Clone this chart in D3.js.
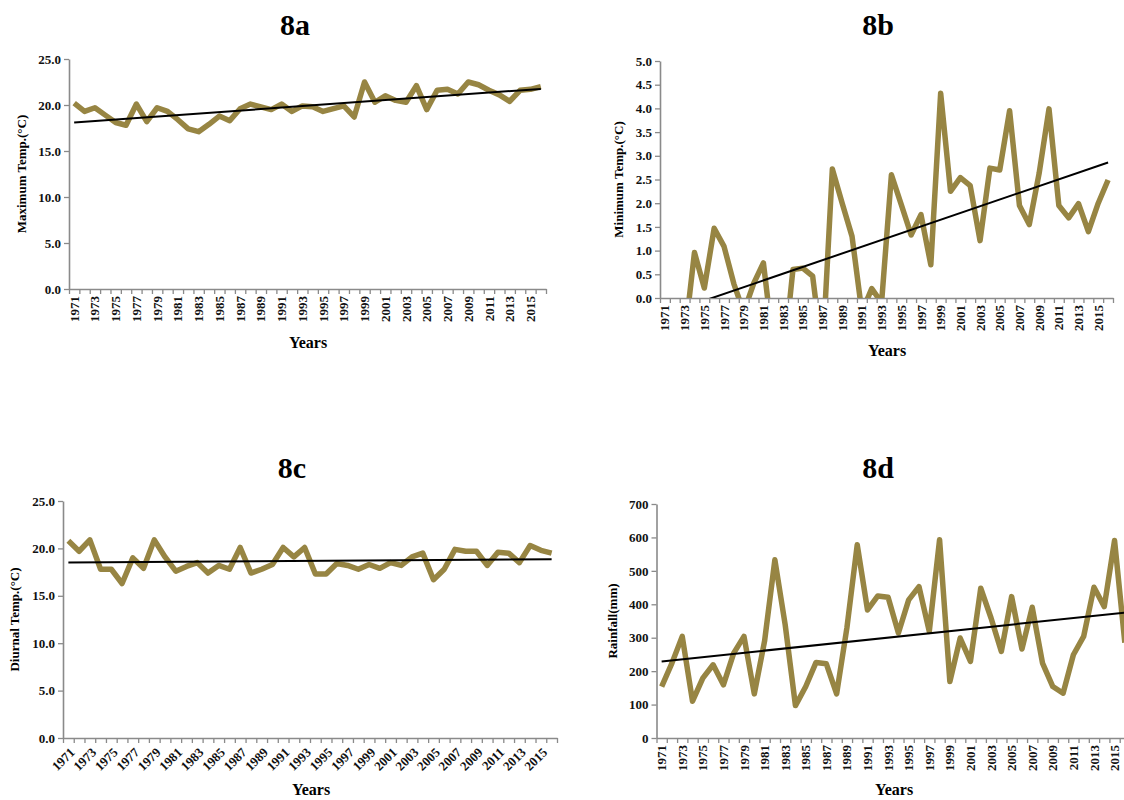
<!DOCTYPE html>
<html>
<head>
<meta charset="utf-8">
<script src="https://cdn.jsdelivr.net/npm/d3@7"></script>
<style>
  body { margin: 0; background: #fff; }
  svg { display: block; font-family: 'Liberation Serif', 'Times New Roman', serif; }
</style>
</head>
<body>
<svg></svg>
<script>
var WIDTH = 1124;
var HEIGHT = 800;

var years = [1971, 1972, 1973, 1974, 1975, 1976, 1977, 1978, 1979, 1980,
    1981, 1982, 1983, 1984, 1985, 1986, 1987, 1988, 1989, 1990,
    1991, 1992, 1993, 1994, 1995, 1996, 1997, 1998, 1999, 2000,
    2001, 2002, 2003, 2004, 2005, 2006, 2007, 2008, 2009, 2010,
    2011, 2012, 2013, 2014, 2015, 2016];
var yearLabels = [1971, 1973, 1975, 1977, 1979, 1981, 1983, 1985, 1987, 1989,
    1991, 1993, 1995, 1997, 1999, 2001, 2003, 2005, 2007, 2009, 2011, 2013, 2015];

// 8a maximum temperature
var maxTemp = [20.2, 19.3, 19.7, 18.9, 18.1, 17.8, 20.1, 18.2, 19.7, 19.3,
    18.4, 17.4, 17.1, 17.9, 18.8, 18.3, 19.6, 20.1, 19.8, 19.5,
    20.1, 19.3, 19.9, 19.8, 19.3, 19.6, 19.9, 18.7, 22.5, 20.3,
    21.0, 20.5, 20.3, 22.1, 19.5, 21.6, 21.7, 21.2, 22.5, 22.2,
    21.6, 21.1, 20.4, 21.6, 21.7, 22.0];
var maxTrend = [18.1, 21.75];
var maxTicks = [0, 5, 10, 15, 20, 25];

// 8b minimum temperature (values under 0 fall outside the axis)
var minTemp = [-0.6, -0.9, -0.85, 0.96, 0.21, 1.47, 1.09, 0.30, -0.30, 0.30,
    0.74, -1.0, -1.4, 0.60, 0.63, 0.46, -1.2, 2.72, 2.00, 1.30,
    -0.3, 0.20, -0.1, 2.60, 1.97, 1.33, 1.76, 0.70, 4.32, 2.25,
    2.54, 2.37, 1.21, 2.74, 2.70, 3.95, 1.95, 1.55, 2.63, 3.99,
    1.95, 1.69, 1.99, 1.40, 2.00, 2.49];
var minTrend = [-0.34, 2.86];
var minTicks = [0, 0.5, 1, 1.5, 2, 2.5, 3, 3.5, 4, 4.5, 5];

// 8c diurnal temperature
var diurnal = [20.8, 19.7, 20.9, 17.8, 17.8, 16.3, 19.0, 17.9, 20.9, 19.1,
    17.6, 18.1, 18.5, 17.4, 18.2, 17.8, 20.1, 17.4, 17.8, 18.3,
    20.1, 19.1, 20.1, 17.3, 17.3, 18.4, 18.2, 17.8, 18.3, 17.9,
    18.5, 18.2, 19.1, 19.5, 16.7, 17.8, 19.9, 19.7, 19.7, 18.2,
    19.6, 19.5, 18.5, 20.3, 19.8, 19.5];
var diurnalTrend = [18.5, 18.85];
var diurnalTicks = [0, 5, 10, 15, 20, 25];

// 8d rainfall
var rainfall = [154, 224, 304, 110, 179, 219, 159, 254, 304, 132,
    290, 533, 339, 97, 154, 226, 222, 132, 330, 578,
    383, 425, 421, 314, 413, 453, 319, 593, 169, 299,
    229, 448, 359, 259, 423, 266, 391, 224, 154, 134,
    249, 304, 451, 393, 591, 285];
var rainTrend = [229, 375];
var rainTicks = [0, 100, 200, 300, 400, 500, 600, 700];

var svg = d3.select('svg')
    .attr('width', WIDTH)
    .attr('height', HEIGHT);

var LINE_COLOR = '#978543';
var AXIS_COLOR = '#8a8a8a';

function drawPanel(p) {
    var g = svg.append('g');
    var x = d3.scaleBand().domain(years).range([p.left, p.right]);
    var y = d3.scaleLinear().domain(p.domain).range([p.bottom, p.top]);
    var cx = function(yr) { return x(yr) + x.bandwidth() / 2; };

    // title
    g.append('text')
        .attr('x', p.titleX).attr('y', p.titleY)
        .attr('text-anchor', 'middle')
        .style('font-size', '30px').style('font-weight', 'bold')
        .text(p.title);

    // y axis
    var yAxis = g.append('g')
        .attr('transform', 'translate(' + p.left + ',0)')
        .call(d3.axisLeft(y).tickValues(p.ticks).tickFormat(d3.format(p.fmt)).tickSize(5).tickSizeOuter(0));
    yAxis.selectAll('text').attr('x', -8);

    // x axis: tick at every category edge
    var edge = d3.scaleLinear().domain([0, years.length]).range([p.left, p.right]);
    g.append('g')
        .attr('transform', 'translate(0,' + p.bottom + ')')
        .call(d3.axisBottom(edge).tickValues(d3.range(0, years.length + 1)).tickFormat('').tickSize(5).tickSizeOuter(0));

    var xLab = g.append('g')
        .attr('transform', 'translate(0,' + p.bottom + ')')
        .call(d3.axisBottom(x).tickValues(yearLabels).tickSize(0));
    xLab.select('.domain').remove();
    if (p.slant) {
        xLab.selectAll('text')
            .attr('x', 0).attr('y', 0).attr('dy', '0.35em')
            .attr('text-anchor', 'end')
            .attr('transform', 'translate(4,12) rotate(-45)');
    } else {
        xLab.selectAll('text')
            .attr('x', -7).attr('y', 0).attr('dy', '0.35em')
            .attr('text-anchor', 'end')
            .attr('transform', 'rotate(-90)');
    }

    g.selectAll('.domain').attr('stroke', AXIS_COLOR).attr('stroke-width', 1.6);
    g.selectAll('.tick line').attr('stroke', AXIS_COLOR).attr('stroke-width', 1.3);
    g.selectAll('.tick text')
        .attr('fill', '#111')
        .style('font-size', '13px').style('font-weight', 'bold')
        .style('font-family', "'Liberation Serif', serif");

    // axis titles
    g.append('text')
        .attr('transform', 'translate(' + p.yTitleX + ',' + (p.top + p.bottom) / 2 + ') rotate(-90)')
        .attr('text-anchor', 'middle').attr('dy', '0.35em')
        .style('font-size', '13px').style('font-weight', 'bold')
        .text(p.yTitle);
    g.append('text')
        .attr('x', p.xTitleX).attr('y', p.xTitleY)
        .attr('text-anchor', 'middle')
        .style('font-size', '16px').style('font-weight', 'bold')
        .text('Years');

    // clip to the plot area
    var clipId = 'clip-' + p.title;
    svg.append('clipPath').attr('id', clipId)
        .append('rect')
        .attr('x', p.left).attr('y', p.top - 10)
        .attr('width', p.right - p.left).attr('height', p.bottom - p.top + 10);

    var line = d3.line()
        .x(function(d, i) { return cx(years[i]); })
        .y(function(d) { return y(d); });

    g.append('path')
        .datum(p.values)
        .attr('clip-path', 'url(#' + clipId + ')')
        .attr('fill', 'none')
        .attr('stroke', LINE_COLOR)
        .attr('stroke-width', 5.5)
        .attr('stroke-linejoin', 'round')
        .attr('d', line);

    // linear trend
    g.append('line')
        .attr('clip-path', 'url(#' + clipId + ')')
        .attr('x1', cx(years[0])).attr('y1', y(p.trend[0]))
        .attr('x2', cx(years[years.length - 1])).attr('y2', y(p.trend[1]))
        .attr('stroke', '#000')
        .attr('stroke-width', 2);
}

drawPanel({
    title: '8a', titleX: 295, titleY: 35,
    left: 69, right: 546, top: 59, bottom: 289,
    domain: [0, 25], ticks: maxTicks, fmt: '.1f',
    values: maxTemp, trend: maxTrend,
    yTitle: 'Maximum Temp.(°C)', yTitleX: 21,
    xTitleX: 308, xTitleY: 348
});

drawPanel({
    title: '8b', titleX: 878, titleY: 35,
    left: 660, right: 1113, top: 61, bottom: 298,
    domain: [0, 5], ticks: minTicks, fmt: '.1f',
    values: minTemp, trend: minTrend,
    yTitle: 'Minimum Temp.(°C)', yTitleX: 618,
    xTitleX: 887, xTitleY: 356
});

drawPanel({
    title: '8c', titleX: 292, titleY: 478,
    left: 63, right: 557, top: 501, bottom: 738,
    domain: [0, 25], ticks: diurnalTicks, fmt: '.1f', slant: true,
    values: diurnal, trend: diurnalTrend,
    yTitle: 'Diurnal Temp.(°C)', yTitleX: 14,
    xTitleX: 311, xTitleY: 795
});

drawPanel({
    title: '8d', titleX: 878, titleY: 478,
    left: 656.5, right: 1130, top: 504, bottom: 738,
    domain: [0, 700], ticks: rainTicks, fmt: 'd',
    values: rainfall, trend: rainTrend,
    yTitle: 'Rainfall(mm)', yTitleX: 612,
    xTitleX: 894, xTitleY: 795
});
</script>
</body>
</html>
